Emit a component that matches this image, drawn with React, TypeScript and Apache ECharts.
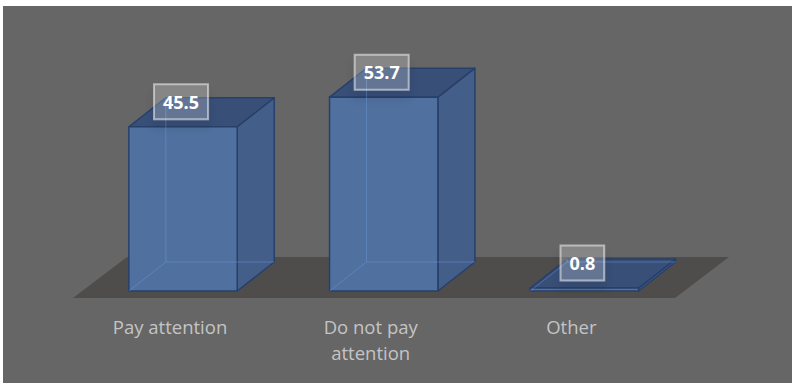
import React, { useEffect, useRef } from "react";
import * as echarts from "echarts";

const categories = ["Pay attention", "Do not pay attention", "Other"];
const values = [45.5, 53.7, 0.8];
const Y_MAX = 60;

const GRID_LEFT = 82.7;
const GRID_WIDTH = 602;
const GRID_TOP = 74.4;
const GRID_HEIGHT = 216.6;
const GRID_BOTTOM_Y = GRID_TOP + GRID_HEIGHT;

const BAR_RATIO = 0.54;
const DEPTH_X = 37;
const DEPTH_Y = -29;

const FONT = "'Open Sans', Lato, sans-serif";

export default function App() {
  const ref = useRef<HTMLDivElement>(null);
  useEffect(() => {
    if (!ref.current) return;
    const chart = echarts.init(ref.current, null, { renderer: "svg" });
    const floorL = GRID_LEFT - 9.7;
    const floorR = GRID_LEFT + GRID_WIDTH - 9.7;
    const floorY = GRID_BOTTOM_Y + 7;
    const option: any = {
      animation: false,
      backgroundColor: "#ffffff",
      graphic: [
        {
          type: "rect",
          z: -10,
          silent: true,
          shape: { x: 3, y: 6, width: 789, height: 377 },
          style: { fill: "#666666" },
        },
        {
          type: "polygon",
          z: -5,
          silent: true,
          shape: {
            points: [
              [floorL, floorY],
              [floorL + 54, floorY - 41],
              [floorR + 54, floorY - 41],
              [floorR, floorY],
            ],
          },
          style: { fill: "#4f4d4b" },
        },
      ],
      grid: {
        left: GRID_LEFT,
        top: GRID_TOP,
        width: GRID_WIDTH,
        height: GRID_HEIGHT,
      },
      xAxis: {
        type: "category",
        data: categories,
        axisLine: { show: false },
        axisTick: { show: false },
        splitLine: { show: false },
        axisLabel: {
          color: "#c4c4c4",
          fontSize: 18.5,
          fontFamily: FONT,
          lineHeight: 26,
          margin: 22,
          padding: [0, 26, 0, 0],
          formatter: (v: string) => {
            const w = v.split(" ");
            return w.length > 3 ? w.slice(0, 3).join(" ") + "\n" + w.slice(3).join(" ") : v;
          },
        },
      },
      yAxis: {
        type: "value",
        min: 0,
        max: Y_MAX,
        show: false,
        splitLine: { show: false },
      },
      series: [
        {
          type: "custom",
          data: categories.map((c, i) => [i, values[i]]),
          encode: { x: 0, y: 1 },
          renderItem: (params: any, api: any) => {
            const idx = api.value(0);
            const v = api.value(1);
            const base = api.coord([idx, 0]);
            const top = api.coord([idx, v]);
            const bw = api.size([1, 0])[0] * BAR_RATIO;
            const cx = base[0];
            const x0 = cx - bw / 2;
            const x1 = cx + bw / 2;
            const yb = base[1];
            const yt = top[1];
            const dx = DEPTH_X;
            const dy = DEPTH_Y;
            const edge = "#27406b";
            const hidden = "rgba(110,160,230,0.4)";
            return {
              type: "group",
              children: [
                {
                  type: "polygon",
                  shape: { points: [[x1, yb], [x1 + dx, yb + dy], [x1 + dx, yt + dy], [x1, yt]] },
                  style: { fill: "#445e8a", stroke: edge, lineWidth: 1.5, lineJoin: "round" },
                },
                {
                  type: "polygon",
                  shape: { points: [[x0, yt], [x0 + dx, yt + dy], [x1 + dx, yt + dy], [x1, yt]] },
                  style: { fill: "#384f78", stroke: edge, lineWidth: 1.5, lineJoin: "round" },
                },
                {
                  type: "rect",
                  shape: { x: x0, y: yt, width: bw, height: yb - yt },
                  style: { fill: "#50709f", stroke: edge, lineWidth: 1.5 },
                },
                {
                  type: "polyline",
                  shape: { points: [[x0, yb], [x0 + dx, yb + dy], [x1 + dx, yb + dy]] },
                  style: { fill: null, stroke: hidden, lineWidth: 1 },
                },
                {
                  type: "line",
                  shape: { x1: x0 + dx, y1: yb + dy, x2: x0 + dx, y2: yt + dy },
                  style: { stroke: hidden, lineWidth: 1 },
                },
                {
                  type: "text",
                  style: {
                    text: String(v),
                    x: cx - 2,
                    y: yt - 25,
                    align: "center",
                    verticalAlign: "middle",
                    fill: "#ffffff",
                    font: "bold 18px " + FONT,
                    lineHeight: 21,
                    backgroundColor: "rgba(255,255,255,0.2)",
                    borderColor: "rgba(255,255,255,0.5)",
                    borderWidth: 1,
                    padding: [7, 9, 7, 9],
                    shadowColor: "rgba(0,0,0,0.3)",
                    shadowBlur: 10,
                    shadowOffsetY: 8,
                  },
                },
              ],
            };
          },
        },
      ],
    };
    chart.setOption(option);
    return () => chart.dispose();
  }, []);
  return (
    <div
      ref={ref}
      style={{ position: "fixed", left: 0, top: 0, width: 792, height: 383 }}
    />
  );
}
